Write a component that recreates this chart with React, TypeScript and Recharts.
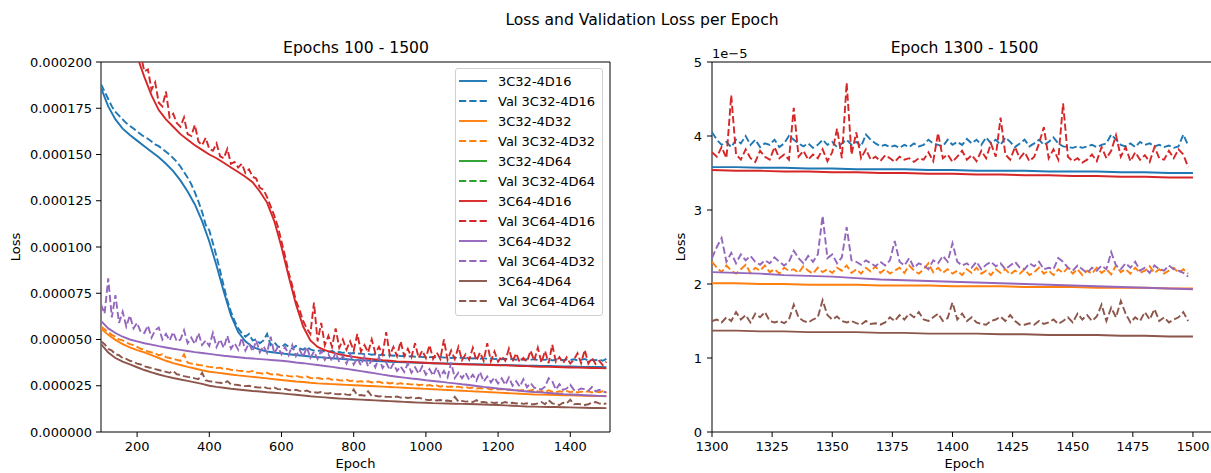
import React from 'react';
import { LineChart, Line, XAxis, YAxis, ReferenceArea, Legend } from 'recharts';

// epoch positions (x) for each sampled series
const range = (start: number, step: number, n: number) =>
  Array.from({ length: n }, (_, i) => start + i * step);

const trainEpochs = range(100, 20, 71);
const valEpochs = range(100, 10, 141);
const zoomTrainEpochs = range(1300, 10, 21);
const zoomValEpochs = range(1300, 2, 100);

// all losses are in units of 1e-5
const c32d16Train = [
  18.6, 17.6, 16.9, 16.4, 16.05, 15.75, 15.45, 15.15, 14.85, 14.5,
  14.1, 13.6, 13.0, 12.3, 11.4, 10.3, 9.0, 7.6, 6.3, 5.4,
  4.9, 4.6, 4.45, 4.35, 4.3, 4.25, 4.2, 4.16, 4.12, 4.08,
  4.05, 4.02, 3.99, 3.96, 3.93, 3.9, 3.88, 3.86, 3.84, 3.82,
  3.8, 3.78, 3.77, 3.75, 3.74, 3.73, 3.72, 3.71, 3.7, 3.69,
  3.68, 3.67, 3.66, 3.65, 3.64, 3.63, 3.62, 3.61, 3.6, 3.59,
  3.58, 3.57, 3.57, 3.56, 3.55, 3.54, 3.53, 3.52, 3.52, 3.51,
  3.5,
];
const c32d16Val = [
  18.8, 18.4, 18.0, 17.6, 17.3, 17.1, 16.9, 16.7, 16.55, 16.4,
  16.25, 16.1, 15.95, 15.85, 15.7, 15.55, 15.45, 15.3, 15.15, 15.0,
  14.8, 14.6, 14.35, 14.05, 13.75, 13.4, 12.95, 12.45, 11.9, 11.2,
  10.9, 10.2, 9.5, 8.7, 7.9, 7.1, 6.5, 6.0, 5.6, 5.35,
  5.15, 5.3, 4.95, 5.0, 4.8, 4.95, 5.3, 4.7, 4.85, 4.62,
  4.58, 4.75, 4.6, 4.5, 4.65, 4.52, 4.45, 4.6, 4.47, 4.4,
  4.38, 4.42, 4.35, 4.33, 4.38, 4.3, 4.32, 4.28, 4.3, 4.25,
  4.27, 4.23, 4.25, 4.2, 4.22, 4.18, 4.2, 4.15, 4.18, 4.13,
  4.15, 4.12, 4.14, 4.1, 4.12, 4.08, 4.1, 4.07, 4.09, 4.05,
  4.07, 4.04, 4.06, 4.03, 4.05, 4.02, 4.04, 4.0, 4.03, 3.99,
  4.02, 3.98, 4.0, 3.97, 4.0, 3.96, 3.99, 3.95, 3.98, 3.94,
  3.97, 3.93, 3.96, 3.92, 3.95, 3.91, 3.94, 3.9, 3.93, 3.9,
  3.95, 3.88, 3.92, 3.9, 3.96, 3.87, 3.91, 3.94, 3.88, 3.92,
  3.89, 3.93, 3.87, 3.9, 3.95, 3.86, 3.9, 3.88, 3.92, 3.85,
  3.95,
];
const c32d32Train = [
  5.6, 5.25, 4.98, 4.75, 4.58, 4.43, 4.3, 4.15, 4.0, 3.85,
  3.72, 3.62, 3.52, 3.43, 3.34, 3.26, 3.21, 3.16, 3.11, 3.06,
  3.02, 2.98, 2.94, 2.9, 2.85, 2.81, 2.77, 2.73, 2.7, 2.66,
  2.63, 2.61, 2.59, 2.57, 2.55, 2.53, 2.51, 2.49, 2.47, 2.45,
  2.43, 2.41, 2.39, 2.37, 2.35, 2.33, 2.31, 2.29, 2.27, 2.25,
  2.23, 2.21, 2.19, 2.17, 2.15, 2.13, 2.11, 2.09, 2.07, 2.05,
  2.03, 2.02, 2.01, 2.0, 1.99, 1.98, 1.97, 1.96, 1.95, 1.95,
  1.94,
];
const c32d32Val = [
  5.7, 5.55, 5.4, 5.25, 5.15, 5.0, 4.95, 4.85, 4.75, 4.7,
  4.6, 4.5, 4.45, 4.35, 4.3, 4.25, 4.15, 4.2, 4.05, 4.0,
  3.95, 3.9, 3.85, 4.2, 3.75, 3.7, 3.68, 3.62, 3.6, 3.55,
  3.52, 3.5, 3.46, 3.48, 3.4, 3.42, 3.36, 3.35, 3.32, 3.3,
  3.27, 3.25, 3.3, 3.2, 3.18, 3.15, 3.2, 3.12, 3.1, 3.12,
  3.05, 3.08, 3.02, 3.0, 3.04, 2.98, 2.95, 3.0, 2.92, 2.9,
  2.92, 2.88, 2.85, 2.9, 2.82, 2.85, 2.8, 2.78, 2.82, 2.76,
  2.78, 2.72, 2.75, 2.7, 2.74, 2.68, 2.7, 2.72, 2.65, 2.68,
  2.62, 2.66, 2.6, 2.64, 2.58, 2.6, 2.56, 2.62, 2.53, 2.56,
  2.5, 2.54, 2.48, 2.52, 2.45, 2.5, 2.44, 2.46, 2.42, 2.45,
  2.4, 2.43, 2.38, 2.4, 2.35, 2.38, 2.34, 2.36, 2.3, 2.34,
  2.3, 2.32, 2.28, 2.3, 2.26, 2.28, 2.24, 2.27, 2.22, 2.25,
  2.3, 2.18, 2.22, 2.16, 2.25, 2.18, 2.15, 2.2, 2.17, 2.22,
  2.15, 2.2, 2.14, 2.18, 2.16, 2.2, 2.14, 2.19, 2.15, 2.2,
  2.12,
];
const c64d16Train = [
  27.0, 25.6, 24.2, 22.8, 21.5, 20.3, 19.2, 18.2, 17.4, 16.9,
  16.5, 16.1, 15.8, 15.5, 15.25, 15.0, 14.8, 14.55, 14.3, 14.05,
  13.8, 13.5, 13.0, 12.4, 11.4, 10.0, 8.4, 6.9, 5.7, 4.95,
  4.6, 4.42, 4.3, 4.2, 4.12, 4.06, 4.0, 3.96, 3.92, 3.88,
  3.85, 3.82, 3.8, 3.78, 3.76, 3.74, 3.72, 3.7, 3.68, 3.67,
  3.66, 3.65, 3.64, 3.63, 3.62, 3.61, 3.6, 3.59, 3.57, 3.56,
  3.54, 3.53, 3.52, 3.51, 3.5, 3.49, 3.48, 3.47, 3.46, 3.45,
  3.44,
];
const c64d16Val = [
  27.4, 26.9, 25.9, 25.4, 24.5, 24.1, 23.1, 22.6, 21.9, 21.4,
  20.6, 20.4, 19.5, 19.6, 18.5, 18.9, 17.8, 17.6, 18.4, 17.0,
  17.2, 16.7, 16.5, 17.0, 16.1, 16.0, 16.6, 15.7, 15.5, 15.9,
  15.3, 15.2, 15.6, 14.9, 14.8, 15.3, 14.5, 14.6, 14.3, 14.5,
  14.0, 14.2, 13.8, 13.7, 13.2, 13.1, 12.7, 12.2, 11.7, 11.1,
  10.3, 9.5, 8.6, 7.9, 7.1, 6.6, 6.0, 5.6, 5.3, 7.0,
  4.9, 5.9, 4.7, 5.2, 4.6, 5.6, 4.55, 5.0, 4.45, 4.9,
  4.4, 5.3, 4.35, 4.7, 4.3, 5.0, 4.25, 4.6, 4.2, 5.4,
  4.15, 4.6, 4.1, 4.9, 4.1, 4.5, 4.05, 4.8, 4.0, 4.4,
  4.0, 4.7, 3.95, 4.3, 3.95, 5.0, 3.9, 4.4, 3.95, 4.6,
  3.88, 4.2, 3.9, 4.55, 3.85, 4.3, 3.85, 4.8, 3.82, 4.35,
  3.8, 4.1, 3.85, 4.5, 3.8, 4.25, 3.78, 4.0, 3.8, 4.4,
  3.85, 4.55, 3.75, 4.38, 3.72, 4.72, 3.8, 4.05, 3.72, 4.04,
  3.7, 3.9, 4.25, 3.72, 4.44, 3.7, 4.01, 3.68, 3.85, 3.62,
  3.8,
];
const c64d32Train = [
  6.0, 5.6, 5.35, 5.15, 5.0, 4.9, 4.8, 4.72, 4.64, 4.57,
  4.5, 4.44, 4.38, 4.32, 4.27, 4.22, 4.17, 4.12, 4.08, 4.04,
  4.0, 3.97, 3.94, 3.91, 3.88, 3.85, 3.81, 3.76, 3.72, 3.67,
  3.62, 3.57, 3.52, 3.46, 3.41, 3.35, 3.29, 3.23, 3.17, 3.1,
  3.04, 2.99, 2.94, 2.89, 2.85, 2.8, 2.76, 2.72, 2.67, 2.63,
  2.58, 2.54, 2.49, 2.44, 2.4, 2.35, 2.31, 2.27, 2.23, 2.19,
  2.16, 2.14, 2.11, 2.08, 2.05, 2.03, 2.01, 1.99, 1.97, 1.95,
  1.93,
];
const c64d32Val = [
  6.9, 6.4, 8.3, 6.2, 7.4, 5.9, 6.5, 5.7, 6.3, 5.6,
  5.9, 5.4, 5.35, 5.75, 5.1, 5.5, 5.65, 5.0, 5.3, 4.95,
  5.4, 4.9, 5.0, 5.5, 4.8, 5.1, 4.75, 5.35, 4.7, 4.95,
  4.65, 5.35, 4.6, 5.0, 4.55, 5.2, 4.5, 4.8, 4.45, 5.1,
  4.4, 4.8, 4.35, 4.95, 4.3, 4.65, 4.28, 5.15, 4.25, 4.6,
  4.2, 4.6, 4.15, 4.7, 4.1, 4.45, 4.05, 4.6, 4.0, 4.35,
  3.95, 4.4, 3.9, 4.2, 3.82, 4.3, 3.78, 4.1, 3.7, 4.2,
  3.65, 4.0, 3.6, 4.1, 3.55, 3.9, 3.5, 4.05, 3.45, 3.75,
  3.35, 3.7, 3.3, 3.55, 3.25, 3.7, 3.2, 3.5, 3.15, 3.55,
  3.1, 3.4, 3.05, 3.5, 3.0, 3.3, 2.95, 3.75, 2.92, 3.2,
  2.9, 3.2, 2.82, 3.1, 2.78, 3.25, 2.72, 3.0, 2.68, 2.95,
  2.62, 2.9, 2.55, 2.95, 2.5, 2.75, 2.45, 2.85, 2.42, 2.65,
  2.4, 2.35, 2.3, 2.45, 2.9, 2.75, 2.3, 2.58, 2.28, 2.35,
  2.55, 2.28, 2.25, 2.35, 2.32, 2.22, 2.43, 2.2, 2.28, 2.18,
  2.15,
];
const c64d64Train = [
  4.75, 4.3, 4.0, 3.8, 3.65, 3.5, 3.35, 3.22, 3.11, 3.01,
  2.92, 2.84, 2.76, 2.68, 2.6, 2.5, 2.44, 2.39, 2.34, 2.3,
  2.26, 2.22, 2.19, 2.15, 2.12, 2.09, 2.05, 2.01, 1.97, 1.93,
  1.9, 1.87, 1.84, 1.81, 1.79, 1.77, 1.75, 1.73, 1.71, 1.69,
  1.67, 1.65, 1.63, 1.61, 1.59, 1.58, 1.56, 1.55, 1.54, 1.53,
  1.52, 1.51, 1.5, 1.49, 1.47, 1.46, 1.44, 1.42, 1.4, 1.38,
  1.37, 1.36, 1.35, 1.35, 1.34, 1.33, 1.32, 1.31, 1.3, 1.3,
  1.29,
];
const c64d64Val = [
  4.9, 4.75, 4.5, 4.4, 4.2, 4.15, 4.0, 3.95, 3.85, 3.8,
  3.7, 3.65, 3.55, 3.5, 3.45, 3.4, 3.35, 3.3, 3.25, 3.2,
  3.3, 3.12, 3.08, 3.02, 2.98, 2.95, 2.9, 2.86, 3.2, 2.8,
  2.74, 2.72, 2.68, 2.66, 2.62, 2.75, 2.58, 2.56, 2.54, 2.5,
  2.48, 2.5, 2.44, 2.42, 2.4, 2.45, 2.37, 2.35, 2.4, 2.32,
  2.3, 2.33, 2.27, 2.25, 2.28, 2.22, 2.2, 2.24, 2.16, 2.15,
  2.12, 2.16, 2.1, 2.08, 2.12, 2.05, 2.04, 2.08, 2.02, 2.0,
  2.3, 1.98, 2.0, 1.96, 2.2, 1.94, 1.96, 1.92, 1.95, 1.9,
  1.9, 1.88, 1.92, 1.86, 1.88, 1.84, 1.87, 1.82, 1.85, 1.8,
  1.75, 1.72, 1.76, 1.7, 1.73, 1.68, 1.7, 1.66, 1.9, 1.65,
  1.68, 1.64, 1.66, 1.62, 1.72, 1.6, 1.63, 1.58, 1.6, 1.57,
  1.6, 1.56, 1.62, 1.55, 1.58, 1.54, 1.57, 1.52, 1.55, 1.5,
  1.5, 1.55, 1.62, 1.5, 1.72, 1.55, 1.5, 1.46, 1.58, 1.55,
  1.75, 1.5, 1.52, 1.5, 1.46, 1.5, 1.58, 1.62, 1.55, 1.5,
  1.55,
];

// epochs 1300 - 1500 close-up
const zoomC32d16Train = [3.58, 3.58, 3.57, 3.57, 3.56, 3.56, 3.55, 3.55, 3.55, 3.54, 3.54, 3.53, 3.53, 3.53, 3.52, 3.52, 3.52, 3.51, 3.51, 3.5, 3.5];
const zoomC64d16Train = [3.54, 3.53, 3.53, 3.52, 3.52, 3.51, 3.51, 3.5, 3.5, 3.49, 3.49, 3.48, 3.48, 3.47, 3.47, 3.46, 3.46, 3.45, 3.45, 3.44, 3.44];
const zoomC64d32Train = [2.16, 2.15, 2.14, 2.12, 2.11, 2.1, 2.08, 2.06, 2.05, 2.04, 2.03, 2.02, 2.01, 2.0, 1.99, 1.98, 1.97, 1.96, 1.95, 1.94, 1.93];
const zoomC32d32Train = [2.01, 2.01, 2.0, 2.0, 1.99, 1.99, 1.99, 1.98, 1.98, 1.98, 1.97, 1.97, 1.97, 1.96, 1.96, 1.96, 1.95, 1.95, 1.95, 1.94, 1.94];
const zoomC64d64Train = [1.37, 1.37, 1.36, 1.36, 1.35, 1.35, 1.35, 1.34, 1.34, 1.33, 1.33, 1.33, 1.32, 1.32, 1.31, 1.31, 1.31, 1.3, 1.3, 1.29, 1.29];

const zoomC32d16Val = [
  4.05, 3.95, 3.88, 3.92, 3.85, 3.95, 3.9, 4.0, 3.88, 3.95,
  3.85, 3.9, 3.88, 3.95, 3.85, 3.9, 4.0, 3.95, 3.9, 3.86,
  3.9, 3.84, 3.88, 3.95, 3.88, 3.92, 3.85, 3.9, 3.95, 3.88,
  3.92, 3.86, 4.02, 3.95, 3.9, 3.86, 3.88, 3.85, 3.87, 3.84,
  3.88, 3.85, 3.9, 3.86, 3.88, 3.95, 3.9, 3.88, 3.86, 3.95,
  3.88, 3.92, 3.88, 3.96, 3.9, 3.95, 3.88, 3.98, 3.9, 3.95,
  3.88, 3.98, 3.92, 3.85, 3.9, 3.95, 3.86, 3.9, 3.95, 3.88,
  3.92, 3.98, 3.9, 3.86, 3.85, 3.84, 3.86, 3.84, 3.86, 3.88,
  3.85, 3.88, 3.9, 4.02, 3.95, 3.88, 3.86, 3.9, 3.85, 3.92,
  3.88, 3.9, 3.86, 3.88, 3.85, 3.87, 3.84, 3.86, 4.02, 3.87,
];
const zoomC64d16Val = [
  3.78, 3.72, 3.85, 3.7, 4.55, 3.75, 3.68, 3.82, 3.7, 3.65,
  3.8, 3.72, 3.68, 3.85, 3.7, 3.75, 3.68, 4.38, 3.72, 3.8,
  3.68, 3.75, 3.7, 3.82, 3.66, 3.78, 4.1, 3.7, 4.72, 3.75,
  4.05, 3.7, 3.82, 3.68, 3.72, 3.66, 3.74, 3.7, 3.65, 3.72,
  3.68, 3.7, 3.65, 3.7, 3.68, 3.78, 3.66, 4.04, 3.7, 3.75,
  3.65, 3.72, 3.8, 3.68, 3.74, 3.66, 3.8, 3.7, 3.9, 3.72,
  4.25, 3.75, 3.68, 3.85, 3.7, 3.78, 3.66, 3.72, 3.9, 4.12,
  3.7, 3.82, 3.68, 4.44, 3.72, 3.66, 3.7, 3.64, 3.68, 3.75,
  3.66, 3.85, 3.7, 3.8, 4.01, 3.72, 3.85, 3.66, 3.78, 3.68,
  3.74, 3.65, 3.85, 3.7, 3.68, 3.8, 3.7, 3.82, 3.75, 3.58,
];
const zoomC64d32Val = [
  2.35, 2.5, 2.62, 2.3, 2.42, 2.28, 2.4, 2.32, 2.38, 2.3,
  2.26, 2.32, 2.28, 2.36, 2.3, 2.25, 2.3, 2.45, 2.35, 2.28,
  2.38, 2.3, 2.4, 2.92, 2.35, 2.4, 2.28, 2.36, 2.77, 2.32,
  2.3, 2.26, 2.32, 2.28, 2.24, 2.3, 2.25, 2.32, 2.58, 2.3,
  2.25, 2.35, 2.22, 2.28, 2.25, 2.2, 2.32, 2.28, 2.38, 2.3,
  2.55, 2.3, 2.25, 2.28, 2.22, 2.3, 2.2, 2.26, 2.3, 2.24,
  2.28, 2.2, 2.25, 2.3, 2.22, 2.2, 2.28, 2.24, 2.3, 2.2,
  2.22, 2.2, 2.35, 2.3, 2.22, 2.18, 2.25, 2.2, 2.15, 2.22,
  2.18, 2.25, 2.2, 2.43, 2.25, 2.2, 2.28, 2.22, 2.3, 2.18,
  2.22, 2.15, 2.25, 2.2, 2.18, 2.25, 2.2, 2.18, 2.15, 2.1,
];
const zoomC32d32Val = [
  2.3, 2.22, 2.16, 2.25, 2.18, 2.14, 2.2, 2.26, 2.15, 2.22,
  2.18, 2.25, 2.16, 2.2, 2.14, 2.22, 2.18, 2.2, 2.15, 2.24,
  2.18, 2.14, 2.22, 2.16, 2.2, 2.15, 2.22, 2.18, 2.25, 2.15,
  2.2, 2.14, 2.22, 2.17, 2.24, 2.15, 2.2, 2.14, 2.18, 2.22,
  2.15, 2.25, 2.18, 2.14, 2.2, 2.28, 2.16, 2.22, 2.15, 2.2,
  2.14, 2.18, 2.12, 2.2, 2.15, 2.22, 2.14, 2.18, 2.12, 2.2,
  2.15, 2.2, 2.13, 2.18, 2.14, 2.2, 2.12, 2.16, 2.22, 2.14,
  2.18, 2.12, 2.2, 2.15, 2.22, 2.14, 2.2, 2.12, 2.18, 2.14,
  2.22, 2.15, 2.2, 2.13, 2.25, 2.16, 2.2, 2.14, 2.22, 2.15,
  2.18, 2.24, 2.15, 2.2, 2.14, 2.18, 2.22, 2.15, 2.2, 2.14,
];
const zoomC64d64Val = [
  1.5, 1.52, 1.48, 1.55, 1.5, 1.62, 1.52, 1.58, 1.48, 1.6,
  1.55, 1.62, 1.5, 1.48, 1.5, 1.47, 1.52, 1.72, 1.55, 1.5,
  1.48, 1.52, 1.55, 1.78, 1.58, 1.52, 1.56, 1.5, 1.48, 1.5,
  1.47, 1.45, 1.5, 1.46, 1.47, 1.45, 1.48, 1.55, 1.5, 1.58,
  1.52, 1.6, 1.55, 1.62, 1.52, 1.5, 1.55, 1.6, 1.5, 1.54,
  1.75, 1.52, 1.6, 1.5, 1.55, 1.48, 1.46, 1.45, 1.5, 1.52,
  1.56, 1.5, 1.58, 1.5, 1.45, 1.45, 1.47, 1.45, 1.5, 1.46,
  1.48, 1.52, 1.46, 1.5, 1.55, 1.48, 1.6, 1.52, 1.58, 1.5,
  1.56, 1.72, 1.5, 1.68, 1.55, 1.77, 1.6, 1.48, 1.55, 1.5,
  1.62, 1.52, 1.66, 1.5, 1.55, 1.48, 1.52, 1.55, 1.62, 1.5,
];

const leftXTicks = [200, 400, 600, 800, 1000, 1200, 1400];
const leftYTicks = [0, 2.5, 5, 7.5, 10, 12.5, 15, 17.5, 20];
const rightXTicks = [1300, 1325, 1350, 1375, 1400, 1425, 1450, 1475, 1500];
const rightYTicks = [0, 1, 2, 3, 4, 5];

const BLUE = '#1f77b4';
const ORANGE = '#ff7f0e';
const GREEN = '#2ca02c';
const RED = '#d62728';
const PURPLE = '#9467bd';
const BROWN = '#8c564b';
const DASH = '7.2 3.1';
const LW = 1.9;

const legendItems = [
  { name: '3C32-4D16', color: BLUE, dashed: false },
  { name: 'Val 3C32-4D16', color: BLUE, dashed: true },
  { name: '3C32-4D32', color: ORANGE, dashed: false },
  { name: 'Val 3C32-4D32', color: ORANGE, dashed: true },
  { name: '3C32-4D64', color: GREEN, dashed: false },
  { name: 'Val 3C32-4D64', color: GREEN, dashed: true },
  { name: '3C64-4D16', color: RED, dashed: false },
  { name: 'Val 3C64-4D16', color: RED, dashed: true },
  { name: '3C64-4D32', color: PURPLE, dashed: false },
  { name: 'Val 3C64-4D32', color: PURPLE, dashed: true },
  { name: '3C64-4D64', color: BROWN, dashed: false },
  { name: 'Val 3C64-4D64', color: BROWN, dashed: true },
];

const toRows = (epochs: number[], values: number[]) =>
  epochs.map((epoch, i) => ({ epoch, loss: values[i] }));

const leftSeries = [
  { key: 'a', color: BLUE, dashed: false, data: toRows(trainEpochs, c32d16Train) },
  { key: 'b', color: BLUE, dashed: true, data: toRows(valEpochs, c32d16Val) },
  { key: 'c', color: ORANGE, dashed: false, data: toRows(trainEpochs, c32d32Train) },
  { key: 'd', color: ORANGE, dashed: true, data: toRows(valEpochs, c32d32Val) },
  { key: 'e', color: RED, dashed: false, data: toRows(trainEpochs, c64d16Train) },
  { key: 'f', color: RED, dashed: true, data: toRows(valEpochs, c64d16Val) },
  { key: 'g', color: PURPLE, dashed: false, data: toRows(trainEpochs, c64d32Train) },
  { key: 'h', color: PURPLE, dashed: true, data: toRows(valEpochs, c64d32Val) },
  { key: 'i', color: BROWN, dashed: false, data: toRows(trainEpochs, c64d64Train) },
  { key: 'j', color: BROWN, dashed: true, data: toRows(valEpochs, c64d64Val) },
];

const rightSeries = [
  { key: 'a', color: BLUE, dashed: false, data: toRows(zoomTrainEpochs, zoomC32d16Train) },
  { key: 'b', color: BLUE, dashed: true, data: toRows(zoomValEpochs, zoomC32d16Val) },
  { key: 'c', color: ORANGE, dashed: false, data: toRows(zoomTrainEpochs, zoomC32d32Train) },
  { key: 'd', color: ORANGE, dashed: true, data: toRows(zoomValEpochs, zoomC32d32Val) },
  { key: 'e', color: RED, dashed: false, data: toRows(zoomTrainEpochs, zoomC64d16Train) },
  { key: 'f', color: RED, dashed: true, data: toRows(zoomValEpochs, zoomC64d16Val) },
  { key: 'g', color: PURPLE, dashed: false, data: toRows(zoomTrainEpochs, zoomC64d32Train) },
  { key: 'h', color: PURPLE, dashed: true, data: toRows(zoomValEpochs, zoomC64d32Val) },
  { key: 'i', color: BROWN, dashed: false, data: toRows(zoomTrainEpochs, zoomC64d64Train) },
  { key: 'j', color: BROWN, dashed: true, data: toRows(zoomValEpochs, zoomC64d64Val) },
];

const tickStyle = { fill: '#000', fontSize: 13 };
const tickLineStyle = { stroke: '#000' };

const LegendBox = () => (
  <div
    style={{
      boxSizing: 'border-box',
      width: 148,
      border: '1px solid #d0d0d0',
      borderRadius: 3,
      background: 'rgba(255,255,255,0.8)',
      padding: '2px 0 4px 3px',
      fontSize: 13,
      color: '#000',
    }}
  >
    {legendItems.map((item) => (
      <div key={item.name} style={{ display: 'flex', alignItems: 'center', height: 20 }}>
        <svg width={28} height={20} style={{ marginRight: 11, flexShrink: 0 }}>
          <line
            x1={0}
            x2={28}
            y1={10}
            y2={10}
            stroke={item.color}
            strokeWidth={LW}
            strokeDasharray={item.dashed ? DASH : undefined}
          />
        </svg>
        <span style={{ whiteSpace: 'nowrap' }}>{item.name}</span>
      </div>
    ))}
  </div>
);

const renderLines = (series: typeof leftSeries) =>
  series.map((s) => (
    <Line
      key={s.key}
      data={s.data}
      dataKey="loss"
      type="linear"
      stroke={s.color}
      strokeWidth={LW}
      strokeDasharray={s.dashed ? DASH : undefined}
      dot={false}
      activeDot={false}
      isAnimationActive={false}
    />
  ));

const text = (style: React.CSSProperties, content: string, size = 13) => (
  <div style={{ position: 'absolute', fontSize: size, color: '#000', whiteSpace: 'nowrap', ...style }}>
    {content}
  </div>
);

export default function App() {
  return (
    <div
      style={{
        position: 'absolute',
        left: 0,
        top: 0,
        width: 1211,
        height: 473,
        overflow: 'hidden',
        background: '#fff',
        fontFamily: '"DejaVu Sans", sans-serif',
      }}
    >
      {text({ left: 642, top: 20, transform: 'translate(-50%, -50%)' }, 'Loss and Validation Loss per Epoch', 15.6)}
      {text({ left: 356, top: 48, transform: 'translate(-50%, -50%)' }, 'Epochs 100 - 1500', 15.6)}
      {text({ left: 964.5, top: 48, transform: 'translate(-50%, -50%)' }, 'Epoch 1300 - 1500', 15.6)}
      {text({ left: 15, top: 247, transform: 'translate(-50%, -50%) rotate(-90deg)' }, 'Loss')}
      {text({ left: 680, top: 247, transform: 'translate(-50%, -50%) rotate(-90deg)' }, 'Loss')}
      {text({ left: 712, top: 53, transform: 'translate(0, -50%)' }, '1e\u22125')}

      <div style={{ position: 'absolute', left: 0, top: 0 }}>
        <LineChart width={620} height={473} margin={{ top: 62, right: 10, bottom: 0, left: 0 }}>
          <XAxis
            type="number"
            dataKey="epoch"
            domain={[100, 1510]}
            ticks={leftXTicks}
            allowDataOverflow
            height={41}
            axisLine={false}
            tickSize={5}
            tickMargin={5}
            tick={tickStyle}
            tickLine={tickLineStyle}
            label={{ value: 'Epoch', position: 'insideBottom', offset: 5, fill: '#000', fontSize: 13 }}
          />
          <YAxis
            type="number"
            domain={[0, 20]}
            ticks={leftYTicks}
            allowDataOverflow
            width={101}
            axisLine={false}
            tickSize={5}
            tickMargin={4}
            tick={tickStyle}
            tickLine={tickLineStyle}
            tickFormatter={(v: number) => (Math.round(v * 10) / 1e6).toFixed(6)}
          />
          {renderLines(leftSeries)}
          <ReferenceArea x1={100} x2={1510} y1={0} y2={20} fill="none" stroke="#000" strokeWidth={1} ifOverflow="visible" />
          <Legend
            layout="vertical"
            align="center"
            verticalAlign="middle"
            content={<LegendBox />}
            wrapperStyle={{ left: 455, top: 68, width: 148, height: 'auto' }}
          />
        </LineChart>
      </div>

      <div style={{ position: 'absolute', left: 620, top: 0 }}>
        <LineChart width={597} height={473} margin={{ top: 62, right: 0, bottom: 0, left: 0 }}>
          <XAxis
            type="number"
            dataKey="epoch"
            domain={[1300, 1510]}
            ticks={rightXTicks}
            allowDataOverflow
            height={41}
            axisLine={false}
            tickSize={5}
            tickMargin={5}
            tick={tickStyle}
            tickLine={tickLineStyle}
            label={{ value: 'Epoch', position: 'insideBottom', offset: 5, fill: '#000', fontSize: 13 }}
          />
          <YAxis
            type="number"
            domain={[0, 5]}
            ticks={rightYTicks}
            allowDataOverflow
            width={92}
            axisLine={false}
            tickSize={5}
            tickMargin={5}
            tick={tickStyle}
            tickLine={tickLineStyle}
          />
          {renderLines(rightSeries)}
          <ReferenceArea x1={1300} x2={1510} y1={0} y2={5} fill="none" stroke="#000" strokeWidth={1} ifOverflow="visible" />
        </LineChart>
      </div>
    </div>
  );
}
